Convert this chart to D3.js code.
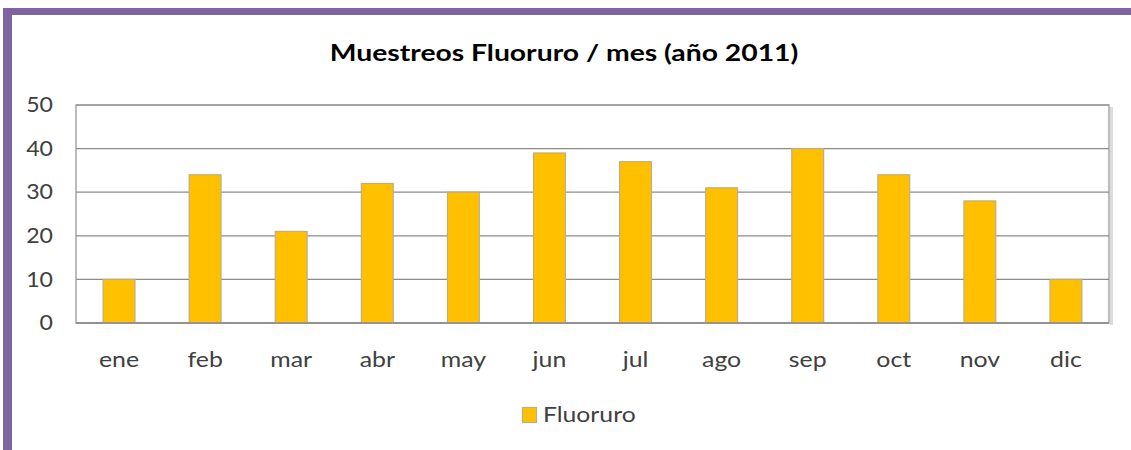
<!DOCTYPE html>
<html><head><meta charset="utf-8">
<script src="https://cdn.jsdelivr.net/npm/d3@7"></script>
<style>html,body{margin:0;padding:0;background:#fff;overflow:hidden}svg{display:block}text{font-family:Lato,"Open Sans",sans-serif}</style>
</head><body>
<svg id="c" width="1131" height="450"></svg>
<script>
const months = ["ene","feb","mar","abr","may","jun","jul","ago","sep","oct","nov","dic"];
const fluoruro = [10,34,21,32,30,39,37,31,40,34,28,10];
const yTicks = [0,10,20,30,40,50];
const title = "Muestreos Fluoruro / mes (año 2011)";
const seriesName = "Fluoruro";

const svg = d3.select("#c");
function stretch(sel, ax, s){ sel.attr("transform",`translate(${ax},0) scale(${s},1) translate(${-ax},0)`); }

// purple frame
svg.append("rect").attr("x",3).attr("y",8).attr("width",1131).attr("height",7).attr("fill","#8064a2");
svg.append("rect").attr("x",3).attr("y",8).attr("width",9).attr("height",445).attr("fill","#8064a2");

const L=76, R=1109, T=105, B=323;
const x = d3.scaleBand().domain(months).range([L,R]).paddingInner(0.63).paddingOuter(0.315);
const y = d3.scaleLinear().domain([0,50]).range([B,T]);

// plot area shadow + border
svg.append("rect").attr("x",R+1).attr("y",T+2).attr("width",3).attr("height",B-T).attr("fill","#dcdcdc");
svg.append("rect").attr("x",L).attr("y",T).attr("width",R-L).attr("height",B-T)
  .attr("fill","#fff").attr("stroke","#a6a6a6").attr("stroke-width",1.5);

// gridlines
svg.append("g").selectAll("line").data(yTicks).join("line")
  .attr("x1",L).attr("x2",R).attr("y1",d=>y(d)).attr("y2",d=>y(d))
  .attr("stroke","#8c8c8c").attr("stroke-width",1.2);

// y axis labels
const yAxis = d3.axisLeft(y).tickValues(yTicks).tickSize(0).tickPadding(23);
const gy = svg.append("g").attr("transform",`translate(${L},0)`).call(yAxis);
gy.select(".domain").remove();
gy.selectAll("text").attr("font-size",21).attr("fill","#404040").style("font-family","Lato,sans-serif")
  .each(function(){ stretch(d3.select(this), -23, 1.1); });

// bars
svg.append("g").selectAll("rect").data(fluoruro).join("rect")
  .attr("x",(d,i)=>x(months[i])).attr("width",x.bandwidth())
  .attr("y",d=>y(d)).attr("height",d=>B-y(d))
  .attr("fill","#ffc000").attr("stroke","#bcae8a").attr("stroke-width",1.2);

// baseline
svg.append("line").attr("x1",L).attr("x2",R).attr("y1",B).attr("y2",B).attr("stroke","#8c8c8c").attr("stroke-width",1.5);

// x axis labels
const xAxis = d3.axisBottom(x).tickSize(0).tickPadding(28);
const gx = svg.append("g").attr("transform",`translate(0,${B})`).call(xAxis);
gx.select(".domain").remove();
gx.selectAll("text").attr("font-size",22).attr("fill","#404040").style("font-family","Lato,sans-serif")
  .each(function(){ stretch(d3.select(this), 0, 1.13); });

// title
stretch(svg.append("text").attr("x",564).attr("y",61).attr("text-anchor","middle")
  .attr("font-size",23.6).attr("font-weight","bold").attr("fill","#000").text(title), 564, 1.2);

// legend
svg.append("rect").attr("x",522.5).attr("y",407.5).attr("width",14).attr("height",15)
  .attr("fill","#ffc000").attr("stroke","#bcae8a").attr("stroke-width",1.2);
stretch(svg.append("text").attr("x",543).attr("y",422.5).attr("font-size",21.5).attr("fill","#404040").text(seriesName), 543, 1.15);
</script>
</body></html>
